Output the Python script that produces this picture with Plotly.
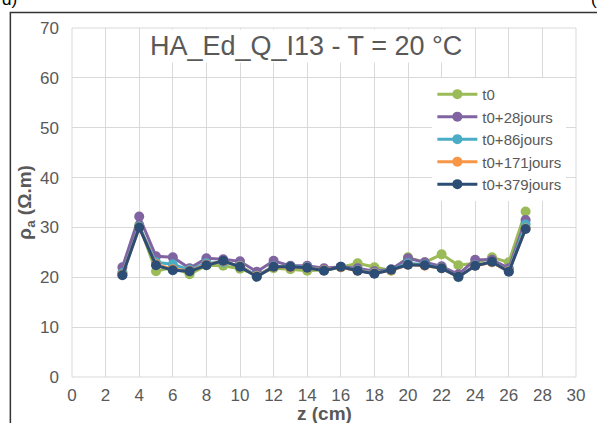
import plotly.graph_objects as go

# profondeur (cm)
z = [3, 4, 5, 6, 7, 8, 9, 10, 11, 12, 13, 14, 15, 16, 17, 18, 19, 20, 21, 22, 23, 24, 25, 26, 27]

# resistivite apparente (ohm.m) pour chaque echeance
t0 = [21.0, 30.5, 21.2, 22.0, 20.6, 22.4, 22.3, 21.7, 20.5, 21.8, 21.6, 21.3, 21.5,
      22.0, 22.8, 22.0, 21.3, 24.0, 23.0, 24.6, 22.4, 22.8, 24.0, 23.0, 33.2]
t28 = [22.0, 32.2, 24.2, 24.0, 21.8, 23.8, 23.6, 23.2, 21.1, 23.3, 22.3, 22.3, 21.8,
       22.1, 21.8, 21.2, 21.6, 23.8, 23.0, 22.2, 20.6, 23.5, 23.5, 21.8, 31.5]
t86 = [20.8, 30.2, 23.0, 22.6, 21.5, 22.8, 23.0, 22.3, 20.3, 22.2, 22.1, 22.0, 21.4,
       22.0, 21.4, 20.9, 21.5, 22.8, 22.5, 21.9, 20.0, 22.4, 23.0, 21.3, 30.6]
t171 = [20.5, 30.0, 22.6, 21.6, 21.3, 22.5, 23.2, 22.2, 20.2, 22.1, 22.0, 21.9, 21.4,
        22.0, 21.3, 20.8, 21.4, 22.5, 22.3, 21.8, 20.1, 22.3, 23.0, 21.2, 29.8]
t379 = [20.4, 30.0, 22.4, 21.4, 21.2, 22.4, 23.3, 22.1, 20.1, 22.1, 22.1, 21.9, 21.3,
        22.1, 21.3, 20.7, 21.5, 22.5, 22.4, 21.8, 20.1, 22.3, 23.1, 21.1, 29.7]

noms = ["t0", "t0+28jours", "t0+86jours", "t0+171jours", "t0+379jours"]
series = [t0, t28, t86, t171, t379]
couleurs = ["#9BBB59", "#8064A2", "#4BACC6", "#F79646", "#2C4D75"]

x_ticks = list(range(0, 31, 2))
y_ticks = list(range(0, 71, 10))

gris = "#595959"
police = "Liberation Sans, Arial, sans-serif"

fig = go.Figure()
for nom, vals, c in zip(noms, series, couleurs):
    fig.add_trace(go.Scatter(x=z, y=vals, name=nom, mode="lines+markers",
                             line=dict(color=c, width=3),
                             marker=dict(color=c, size=10)))

fig.update_layout(
    width=597, height=423,
    margin=dict(l=72, r=18, t=28, b=45.5),
    plot_bgcolor="white", paper_bgcolor="white",
    font=dict(family=police, color=gris, size=17),
    showlegend=True,
    legend=dict(x=0.715, y=0.857, xanchor="left", yanchor="top",
                bgcolor="white", font=dict(size=15, color=gris),
                itemwidth=40, tracegroupgap=0),
)
fig.update_xaxes(range=[0, 30], tickvals=x_ticks, showgrid=True, gridcolor="#D9D9D9",
                 gridwidth=1, zeroline=False, showline=False, ticks="",
                 tickfont=dict(size=17, color=gris), ticklabelstandoff=6)
fig.update_yaxes(range=[0, 70], tickvals=y_ticks, showgrid=True, gridcolor="#D9D9D9",
                 gridwidth=1, zeroline=False, showline=False, ticks="",
                 tickfont=dict(size=17, color=gris), ticklabelstandoff=12)

# bord de la zone de trace
fig.add_shape(type="rect", xref="paper", yref="paper", x0=0, x1=1, y0=0, y1=1,
              line=dict(color="#D9D9D9", width=1), layer="below")

# titre sur fond blanc
fig.add_annotation(text="HA_Ed_Q_I13 - T = 20 °C", xref="paper", yref="paper",
                   x=0.465, y=0.948, xanchor="center", yanchor="middle",
                   showarrow=False, bgcolor="white",
                   font=dict(size=27, color=gris, family=police))
# titres des axes
fig.add_annotation(text="<b>z (cm)</b>", xref="paper", yref="paper",
                   x=0.5, y=-0.104, xanchor="center", yanchor="middle",
                   showarrow=False, font=dict(size=19, color=gris, family=police))
fig.add_annotation(text="<b>ρ<sub>a</sub> (Ω.m)</b>", xref="paper", yref="paper",
                   x=-0.093, y=0.5, xanchor="center", yanchor="middle", textangle=-90,
                   showarrow=False, font=dict(size=19, color=gris, family=police))

# cadre du graphique
fig.add_shape(type="rect", xref="paper", yref="paper",
              x0=-0.1223, x1=1.05, y0=-0.16, y1=1.0443,
              line=dict(color="#333333", width=1.5))
# morceaux de texte coupes en haut
fig.add_annotation(text="d)", xref="paper", yref="paper", x=-0.142, y=1.048,
                   xanchor="left", yanchor="bottom", showarrow=False,
                   font=dict(size=17, color="#000000", family=police))
fig.add_annotation(text="(", xref="paper", yref="paper", x=1.025, y=1.048,
                   xanchor="left", yanchor="bottom", showarrow=False,
                   font=dict(size=17, color="#000000", family=police))

fig.write_html("out.html", config={"displayModeBar": False},
               post_script="document.body.style.margin='0px';")
